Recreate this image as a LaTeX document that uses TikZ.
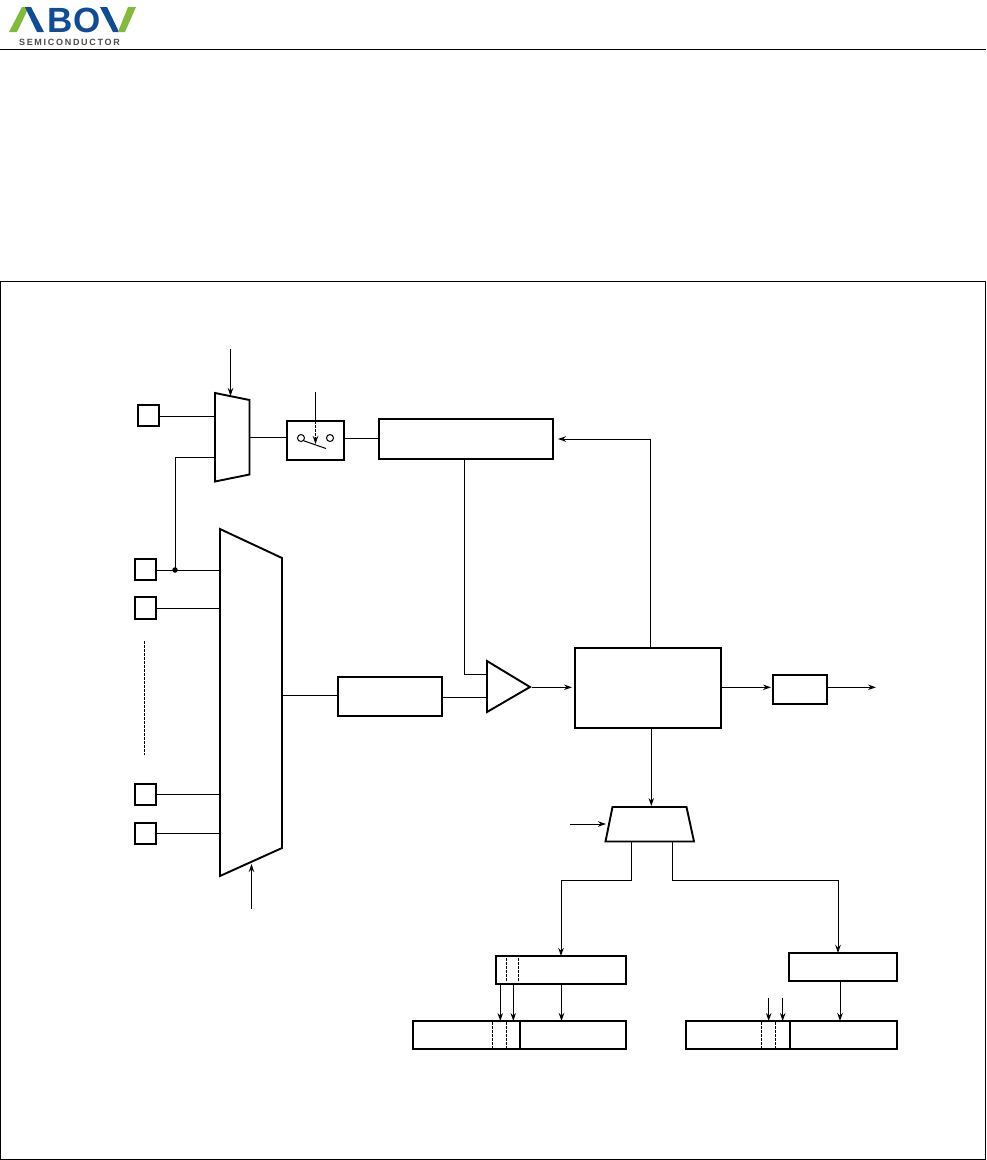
\documentclass[tikz,border=0pt]{standalone}
\usepackage{fontspec}
\usepackage{tikz}
\usetikzlibrary{arrows.meta, positioning, calc}
\setsansfont{Liberation Sans}
\newfontfamily\logofont[LetterSpace=19]{Liberation Sans}
\definecolor{abovblue}{RGB}{14, 76, 150}
\definecolor{abovgreen}{RGB}{130, 186, 60}
\definecolor{abovgray}{RGB}{75, 75, 75}
\tikzset{
    blk/.style={rectangle, draw, line width=1.9pt, inner sep=0pt, outer sep=0pt},
    pad/.style={blk, minimum width=21pt, minimum height=21pt},
    wire/.style={draw, line width=1pt},
    sig/.style={draw, line width=1pt, -{Stealth[length=8pt, width=5.5pt]}},
    outline/.style={draw, line width=1.9pt, line join=miter},
    cut/.style={draw, line width=0.8pt, dash pattern=on 2.5pt off 1.5pt}
}

\begin{document}
\begin{tikzpicture}[x=1pt, y=-1pt]
    \useasboundingbox (0,0) rectangle (986,1160);

    % Header
    \fill[abovgreen] (9,32) -- (22,7) -- (29,7) -- (17,32) -- cycle;
    \fill[abovblue] (25,7) -- (31,7) -- (44,32) -- (37,32) -- cycle;
    \node[anchor=base, inner sep=0pt, text=abovblue, font=\sffamily\bfseries\fontsize{35}{35}\selectfont] (logoBO) at (74,32) {BO};
    \fill[abovblue] (100,7) -- (107,7) -- (119,32) -- (113,32) -- cycle;
    \fill[abovgreen] (128,7) -- (136,7) -- (125,32) -- (118,32) -- cycle;
    \node[anchor=base, inner sep=0pt, text=abovgray, font=\logofont\bfseries\fontsize{9}{9}\selectfont] (logoSemi) at (69.5,45) {SEMICONDUCTOR};
    \draw[line width=1pt] (0,49.5) -- (986,49.5);

    % Frame
    \draw[line width=1pt] (0.5,281) rectangle (985.5,1159.5);

    % Input pads
    \node[pad] (padA) at (148.5,415.5) {};
    \node[pad] (padB) at (145.5,569.5) {};
    \node[pad, minimum height=22pt] (padC) at (145.5,608) {};
    \node[pad] (padD) at (145.5,794.5) {};
    \node[pad] (padE) at (145.5,833.5) {};
    \draw[cut] (144.5,641) -- (144.5,755);

    % Small mux and switch
    \draw[outline] (215,393) -- (249.5,400) -- (249.5,474.5) -- (215,481.5) -- cycle;
    \coordinate (smallTop) at (230.5,396);
    \coordinate (smallTopIn) at (230.5,349);
    \coordinate (smallA) at (215,416);
    \coordinate (smallB) at (215,457.5);
    \coordinate (smallOut) at (249.5,437.5);
    \node[blk, minimum width=57pt, minimum height=39pt] (switchBox) at (315.5,440.5) {};
    \node[circle, draw, line width=1pt, minimum size=7pt, inner sep=0pt] (swL) at (301,438) {};
    \node[circle, draw, line width=1pt, minimum size=7pt, inner sep=0pt] (swR) at (330,438) {};
    \draw[wire] (swL.south east) -- (326,448.5);
    \coordinate (swCtl) at (315.5,392);
    \draw[wire] (swCtl) -- (switchBox.north);
    \draw[cut, -{Stealth[length=8pt, width=5.5pt]}] (switchBox.north) -- (315.5,444);
    \draw[sig] (smallTopIn) -- (smallTop);
    \draw[wire] (padA.east |- smallA) -- (smallA);
    \draw[wire] (smallOut) -- (switchBox.west |- smallOut);

    % Big mux
    \draw[outline] (220,529) -- (282,558) -- (282,848) -- (220,876) -- cycle;
    \coordinate (bigA) at (220,570);
    \coordinate (bigB) at (220,608);
    \coordinate (bigD) at (220,794.3);
    \coordinate (bigE) at (220,833.3);
    \coordinate (bigOut) at (282,695);
    \coordinate (bigSel) at (251.5,864);
    \coordinate (bigSelIn) at (251.5,909);
    \draw[wire] (padB.east |- bigA) -- (bigA);
    \draw[wire] (padC.east |- bigB) -- (bigB);
    \draw[wire] (padD.east |- bigD) -- (bigD);
    \draw[wire] (padE.east |- bigE) -- (bigE);
    \draw[sig] (bigSelIn) -- (bigSel);
    \node[circle, fill, minimum size=5.5pt, inner sep=0pt] (tapDot) at (175,570) {};
    \draw[wire] (tapDot.center) |- (smallB);

    % Main blocks
    \node[blk, minimum width=174pt, minimum height=40pt] (topBlock) at (466,439) {};
    \node[blk, minimum width=104pt, minimum height=39pt] (holdBlock) at (390,696.5) {};
    \node[blk, minimum width=146pt, minimum height=80pt] (logicBlock) at (648,688) {};
    \node[blk, minimum width=54pt, minimum height=29pt] (outBlock) at (800,689.5) {};
    \draw[outline] (487,661) -- (530,687) -- (487,712) -- cycle;
    \coordinate (cmpA) at (487,674);
    \coordinate (cmpB) at (487,697);
    \coordinate (cmpOut) at (532,687.3);
    \coordinate (outEnd) at (876,687.3);
    \coordinate (logicTop) at (650.3,648);
    \coordinate (topDown) at (464.5,459);
    \draw[wire] (switchBox.east |- 0,438.5) -- (topBlock.west |- 0,438.5);
    \draw[wire] (bigOut) -- (holdBlock.west |- bigOut);
    \draw[wire] (holdBlock.east |- cmpB) -- (cmpB);
    \draw[wire] (topDown) |- (cmpA);
    \draw[sig, shorten >=3pt] (cmpOut) -- (logicBlock.west |- cmpOut);
    \draw[sig, shorten >=2pt] (logicBlock.east |- cmpOut) -- (outBlock.west |- cmpOut);
    \draw[sig] (outBlock.east |- cmpOut) -- (outEnd);
    \draw[sig, shorten >=5pt] (logicTop) |- (topBlock.east);

    % Lower mux
    \draw[outline] (612.5,807) -- (686.5,807) -- (694,841.5) -- (605.5,841.5) -- cycle;
    \coordinate (lowTop) at (651.3,806);
    \coordinate (lowIn) at (570,824);
    \coordinate (lowSel) at (606,824);
    \coordinate (lowL) at (631.5,841.5);
    \coordinate (lowR) at (672.5,841.5);
    \draw[sig] (logicBlock.south -| lowTop) -- (lowTop);
    \draw[sig] (lowIn) -- (lowSel);

    % Result registers
    \node[blk, minimum width=130pt, minimum height=28pt] (bufReg) at (561,970) {};
    \node[blk, minimum width=213pt, minimum height=28pt] (leftReg) at (519.5,1035) {};
    \node[blk, minimum width=108pt, minimum height=28pt] (holdReg) at (843,967) {};
    \node[blk, minimum width=211pt, minimum height=28pt] (rightReg) at (791.5,1035) {};
    \draw[line width=1.9pt] (520,1021) -- (520,1049);
    \draw[line width=1.9pt] (790,1021) -- (790,1049);
    \draw[cut] (506.3,958) -- (506.3,982);
    \draw[cut] (518.3,958) -- (518.3,982);
    \draw[cut] (492.3,1022) -- (492.3,1048);
    \draw[cut] (506.3,1022) -- (506.3,1048);
    \draw[cut] (761.3,1022) -- (761.3,1048);
    \draw[cut] (775.3,1022) -- (775.3,1048);
    \draw[sig] (lowL) |- (bufReg.north |- 0,880) -- (bufReg.north);
    \draw[sig] (lowR) |- (838,880) -- (holdReg.north -| 838,0);
    \draw[sig] (500.3,984) -- (500.3,1021);
    \draw[sig] (513.3,984) -- (513.3,1021);
    \draw[sig] (561.5,984) -- (561.5,1021);
    \draw[sig] (840,981) -- (840,1021);
    \draw[sig] (768.7,998) -- (768.7,1021);
    \draw[sig] (782.7,998) -- (782.7,1021);
\end{tikzpicture}
\end{document}
